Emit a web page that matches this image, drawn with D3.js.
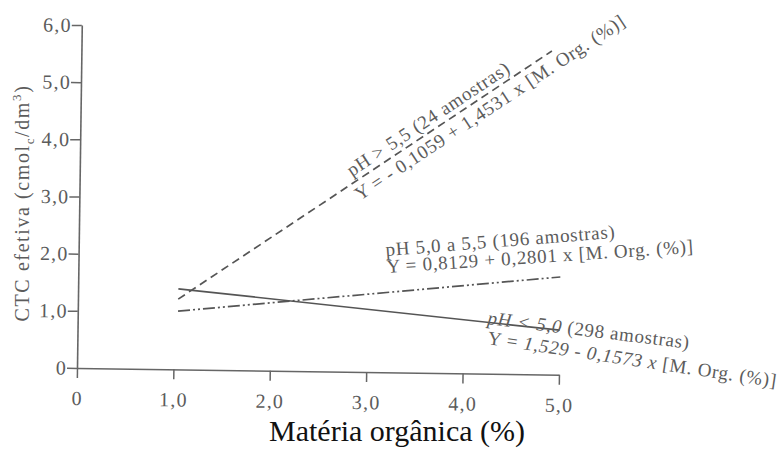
<!DOCTYPE html>
<html lang="pt">
<head>
  <meta charset="UTF-8">
  <title>CTC efetiva x matéria orgânica</title>
  <style>
    body { margin: 0; background: #fff; }
    svg { display: block; }
    text { font-family: "Liberation Serif", "Times New Roman", serif; fill: #5c5c5c; }
  </style>
</head>
<body>

  <div id="app"></div>

  <script src="https://cdn.jsdelivr.net/npm/d3@7/dist/d3.min.js"></script>
  <script>
    const xTicks = [0, 1, 2, 3, 4, 5]
    const yTicks = [0, 1, 2, 3, 4, 5, 6]

    // end points of the three regressions (M.O. %, CTC)
    const acidX = [1.04, 5.0]    // pH < 5,0
    const acidY = [1.41, 0.78]
    const midX = [1.04, 5.0]     // pH 5,0 a 5,5
    const midY = [1.02, 1.71]
    const highX = [1.04, 4.88]   // pH > 5,5
    const highY = [1.23, 5.66]

    const fmt = v => v === 0 ? '0' : d3.format('.1f')(v).replace('.', ',')

    const W = 784, H = 452
    const x0 = 77, y0 = 368

    const svg = d3.select('#app').append('svg')
      .attr('width', W)
      .attr('height', H)

    const x = d3.scaleLinear().domain([0, 5]).range([x0, x0 + 482])
    const y = d3.scaleLinear().domain([0, 6]).range([y0, y0 - 343])

    // the scanned figure is turned a little clockwise
    const plot = svg.append('g')
      .attr('transform', `rotate(0.8, ${x0}, ${y0})`)

    const yAxis = plot.append('g')
      .attr('transform', `translate(${x0},0)`)
      .call(d3.axisLeft(y).tickValues(yTicks).tickFormat(fmt).tickSize(10).tickSizeOuter(0).tickPadding(0))
    const xAxis = plot.append('g')
      .attr('transform', `translate(0,${y0})`)
      .call(d3.axisBottom(x).tickValues(xTicks).tickFormat(fmt).tickSize(10).tickSizeOuter(0).tickPadding(13))

    for (const ax of [xAxis, yAxis]) {
      ax.select('.domain').attr('stroke', '#666').attr('stroke-width', 1.6)
      ax.selectAll('.tick line').attr('stroke', '#666').attr('stroke-width', 1.5)
      ax.selectAll('.tick text')
        .attr('fill', '#5c5c5c')
        .style('font-family', '"Liberation Serif", serif')
        .style('font-size', '20px')
        .style('letter-spacing', '1.2px')
    }

    const line = d3.line().x(d => x(d[0])).y(d => y(d[1]))
    const series = [
      { pts: d3.zip(acidX, acidY), dash: null },
      { pts: d3.zip(midX, midY), dash: '12,3,2,3,2,3' },
      { pts: d3.zip(highX, highY), dash: '8,5' },
    ]
    plot.selectAll('path.reg').data(series).enter()
      .append('path')
      .attr('class', 'reg')
      .attr('d', d => line(d.pts))
      .attr('fill', 'none')
      .attr('stroke', '#555')
      .attr('stroke-width', 1.7)
      .attr('stroke-dasharray', d => d.dash)

    // y axis title
    const yt = svg.append('text')
      .attr('transform', 'translate(29,203) rotate(-90)')
      .attr('text-anchor', 'middle')
      .style('font-size', '20px')
      .style('letter-spacing', '1.6px')
    yt.append('tspan').text('CTC efetiva (cmol')
    yt.append('tspan').text('c').attr('dy', 5).style('font-size', '13px')
    yt.append('tspan').text('/dm').attr('dy', -5)
    yt.append('tspan').text('3').attr('dy', -8).style('font-size', '13px')
    yt.append('tspan').text(')').attr('dy', 8)

    // x axis title
    svg.append('text')
      .attr('x', 397)
      .attr('y', 441)
      .attr('text-anchor', 'middle')
      .style('font-size', '30px')
      .style('fill', '#111')
      .text('Matéria orgânica (%)')

    // equation labels
    function note(px, py, angle, parts) {
      const t = svg.append('text')
        .attr('transform', `translate(${px},${py}) rotate(${angle})`)
        .style('font-size', '19px')
        .style('letter-spacing', '0.7px')
      parts.forEach(p => {
        t.append('tspan').text(p[0]).style('font-style', p[1] ? 'italic' : 'normal')
      })
    }

    note(352, 177, -33.5, [['pH > 5,5 (24 amostras)']])
    note(360, 201, -33.5, [['Y = - 0,1059 + 1,4531 x [M. Org. (%)]']])
    note(386, 256, -4.5, [['pH 5,0 a 5,5 (196 amostras)']])
    note(387, 273, -3.8, [['Y = 0,8129 + 0,2801 x [M. Org. (%)]']])
    note(487, 324, 7, [['pH < 5,0', true], [' (298 amostras)']])
    note(487, 344, 8.5, [['Y = '], ['1,529 - 0,1573 x', true], [' [M. Org. (%)]']])
  </script>
</body>
</html>
